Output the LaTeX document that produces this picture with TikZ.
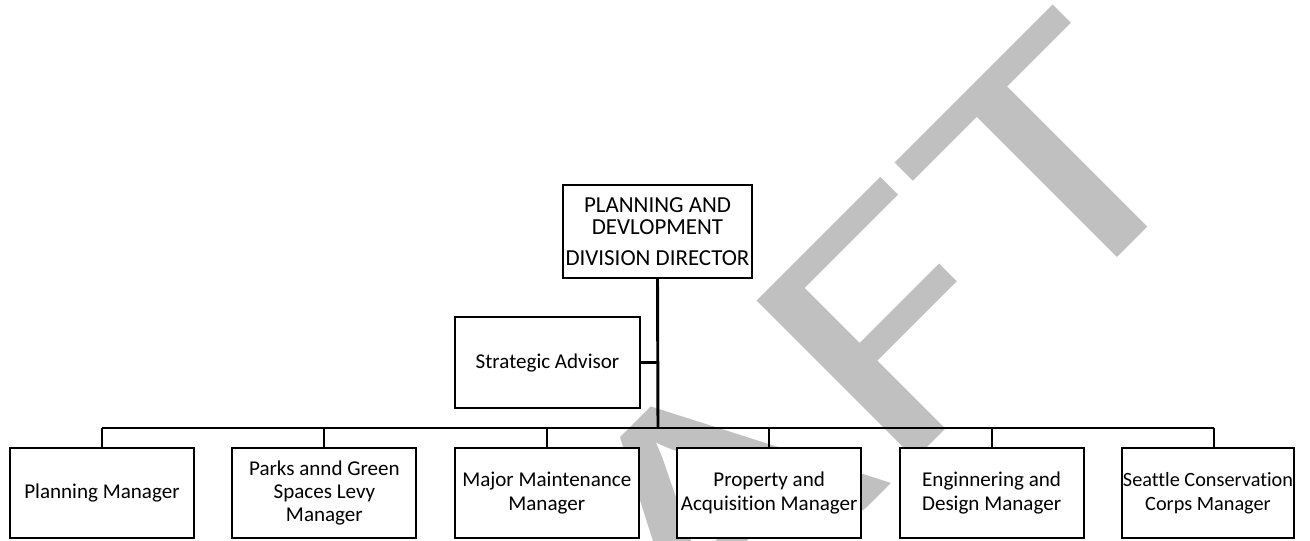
\documentclass[tikz,border=0pt]{standalone}
\usepackage{graphicx}
\usepackage{fontspec}
\setmainfont{Carlito}[Ligatures={NoCommon}]
\usetikzlibrary{positioning}

\definecolor{draftgray}{HTML}{C0C0C0}

\begin{document}
\begin{tikzpicture}[x=0.75pt, y=-0.75pt,
  box/.style={draw, line width=1.6pt, fill=white, align=center,
    minimum width=138pt, minimum height=67.5pt, inner sep=2pt,
    font=\fontsize{15.8}{17.6}\selectfont},
  link/.style={line width=1.8pt}]
\useasboundingbox (0,0) rectangle (1310,540);
\clip (0,0) rectangle (1310,540);

% draft mark, behind everything
\node[anchor=base east, rotate=45, text=draftgray, inner sep=0pt] (mark) at (1215.5,159.5)
  {\scalebox{1.38}[1]{\fontsize{262}{262}\selectfont DRAFT}};

\node[box, minimum width=138.75pt, minimum height=69.75pt,
  font=\fontsize{17.2}{16.5}\selectfont] (dir) at (657.5,231.5)
  {PLANNING AND\\DEVLOPMENT\\[6.5pt]DIVISION DIRECTOR};
\node[box, minimum width=138.75pt, minimum height=68.25pt] (adv) at (547.5,362.5)
  {Strategic Advisor};

% managers row
\node[box] (plan) at (102,493) {Planning Manager};
\node[box, right=27.2pt of plan] (levy) {Parks annd Green\\Spaces Levy\\Manager};
\node[box, right=27.2pt of levy] (maint) {Major Maintenance\\Manager};
\node[box, right=27.2pt of maint] (prop) {Property and\\Acquisition Manager};
\node[box, right=27.2pt of prop] (eng) {Enginnering and\\Design Manager};
\node[box, right=27.2pt of eng, minimum width=129pt, inner sep=0pt,
  font=\fontsize{15.2}{17.6}\selectfont] (scc) {Seattle Conservation\\Corps Manager};

\coordinate (bus) at (658,428);
\draw[link, line width=2.2pt] (dir.south) -- (bus);
\draw[link] (adv.east) -- (adv.east -| bus);
\draw[link] (plan.north |- bus) -- ([xshift=4.5pt]scc.north |- bus);
\draw[link, line width=1.5pt] (plan.north |- bus) -- (plan.north)
  (levy.north |- bus) -- (levy.north)
  (maint.north |- bus) -- (maint.north)
  (prop.north |- bus) -- (prop.north)
  (eng.north |- bus) -- (eng.north)
  ([xshift=4.5pt]scc.north |- bus) -- ([xshift=4.5pt]scc.north);
\end{tikzpicture}
\end{document}
